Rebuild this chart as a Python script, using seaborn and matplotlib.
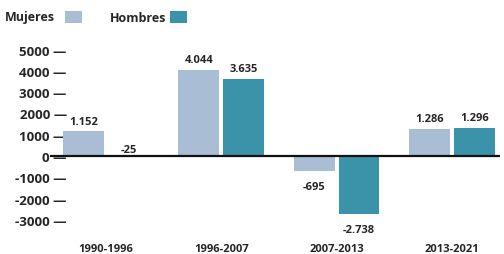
import pandas as pd
import numpy as np
import seaborn as sns
from matplotlib import pyplot as plt
from matplotlib.patches import Rectangle

# data
periods = ["1990-1996", "1996-2007", "2007-2013", "2013-2021"]
mujeres = [1152, 4044, -695, 1286]
hombres = [-25, 3635, -2738, 1296]
series = ["Mujeres", "Hombres"]
yticks = [5000, 4000, 3000, 2000, 1000, 0, -1000, -2000, -3000]

colors = ["#a9bdd5", "#3a93a8"]

df = pd.DataFrame({
    "periodo": periods * 2,
    "valor": mujeres + hombres,
    "sexo": ["Mujeres"] * 4 + ["Hombres"] * 4,
})

sns.set_style("white")
plt.rcParams['font.family'] = ['Open Sans', 'DejaVu Sans']

fig = plt.figure(figsize=(5.04, 2.55), dpi=100)
ax = fig.add_axes([50 / 504, 15 / 255, 450 / 504, 200 / 255])

sns.barplot(data=df, x="periodo", y="valor", hue="sexo", hue_order=series,
            palette=colors, width=0.78, gap=0.09, legend=False, ax=ax,
            saturation=1, edgecolor="none")

ax.set_xlim(-0.486, 3.418)
ax.set_ylim(-3897, 5493)
ax.axhline(0, color="#111111", lw=1.6, zorder=5)

for s in ax.spines.values():
    s.set_visible(False)

ax.set_yticks(yticks)
ax.set_yticklabels([f"{v} —" for v in yticks], fontsize=9.5, fontweight="bold")
ax.tick_params(axis="y", length=0, pad=-12)
ax.tick_params(axis="x", length=0, pad=3)
ax.set_xticks(range(len(periods)))
ax.set_xticklabels(periods, fontsize=8, fontweight="bold")
ax.set_xlabel("")
ax.set_ylabel("")

# value labels
def fmt(v):
    s = f"{abs(v):,}".replace(",", ".")
    return ("-" if v < 0 else "") + s

for cont, vals in zip(ax.containers, [mujeres, hombres]):
    for patch, v in zip(cont.patches, vals):
        xc = patch.get_x() + patch.get_width() / 2
        if v < -100:
            ax.annotate(fmt(v), (xc, v), xytext=(0, -11), textcoords="offset points",
                        ha="center", va="center", fontsize=8, fontweight="bold")
        else:
            ax.annotate(fmt(v), (xc, max(v, 0)), xytext=(0, 7.5 if v > 0 else 5),
                        textcoords="offset points",
                        ha="center", va="center", fontsize=8, fontweight="bold")

# legend drawn by hand at the top
for label, col, xt, xb in zip(series, colors, [5, 110], [65, 170]):
    fig.text(xt / 504, 1 - 18 / 255, label, fontsize=9, fontweight="bold",
             va="center", ha="left")
    fig.patches.append(Rectangle((xb / 504, 1 - 24 / 255), 17 / 504, 12 / 255,
                                 transform=fig.transFigure, facecolor=col,
                                 edgecolor="none"))

fig.savefig("out.png", dpi=100, facecolor="white")
